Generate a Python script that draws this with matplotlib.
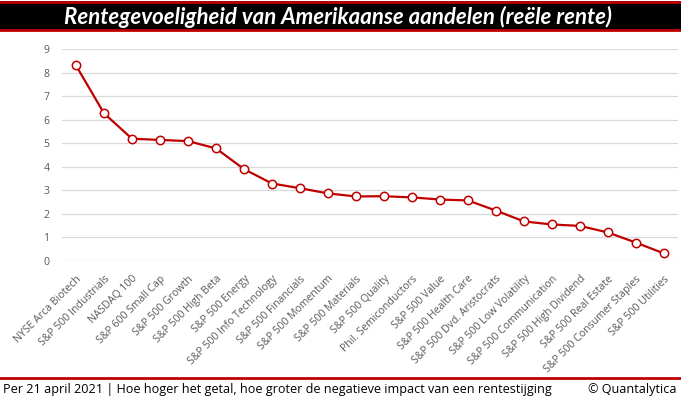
import matplotlib
matplotlib.use("Agg")
import matplotlib.pyplot as plt
from matplotlib.patches import Rectangle
from matplotlib.lines import Line2D

categories = [
    "NYSE Arca Biotech", "S&P 500 Industrials", "NASDAQ 100", "S&P 600 Small Cap",
    "S&P 500 Growth", "S&P 500 High Beta", "S&P 500 Energy", "S&P 500 Info Technology",
    "S&P 500 Financials", "S&P 500 Momentum", "S&P 500 Materials", "S&P 500 Quality",
    "Phil. Semiconductors", "S&P 500 Value", "S&P 500 Health Care",
    "S&P 500 Dvd. Aristocrats", "S&P 500 Low Volatility", "S&P 500 Communication",
    "S&P 500 High Dividend", "S&P 500 Real Estate", "S&P 500 Consumer Staples",
    "S&P 500 Utilities",
]
values = [8.30, 6.27, 5.19, 5.14, 5.09, 4.78, 3.90, 3.29, 3.09, 2.87, 2.74,
          2.75, 2.70, 2.61, 2.57, 2.14, 1.68, 1.55, 1.49, 1.21, 0.78, 0.32]
y_ticks = list(range(0, 10))

title = "Rentegevoeligheid van Amerikaanse aandelen (reële rente)"
footer_left = "Per 21 april 2021 | Hoe hoger het getal, hoe groter de negatieve impact van een rentestijging"
footer_right = "© Quantalytica"

red = "#c00000"
W, H = 681, 399
fig = plt.figure(figsize=(W / 100, H / 100), dpi=100)

# title bar
fig.patches.append(Rectangle((0, 1 - 31 / H), 1, 30 / H, transform=fig.transFigure,
                             facecolor="black", edgecolor="none"))
for yy in (1 - 2 / H, 1 - 30 / H):
    fig.lines.append(Line2D([0, 1], [yy, yy], transform=fig.transFigure, color=red, lw=2))
fig.text(338 / W, 1 - 16.5 / H, title, ha="center", va="center", color="white",
         fontsize=16, fontweight="bold", fontstyle="italic", family="Lato")

ax = fig.add_axes([62 / W, 1 - 261 / H, 616 / W, 212 / H])
x = list(range(len(categories)))
ax.plot(x, values, color=red, lw=1.6, marker="o", markersize=6,
        markerfacecolor="white", markeredgecolor=red, markeredgewidth=1.1, zorder=3)
ax.set_xlim(-0.5, len(categories) - 0.5)
ax.set_ylim(0, 9)
ax.set_yticks(y_ticks)
ax.grid(axis="y", color="#d9d9d9", lw=0.9)
ax.set_axisbelow(True)
for s in ax.spines.values():
    s.set_visible(False)
ax.tick_params(axis="both", length=0, colors="#595959", labelsize=7.6)
ax.tick_params(axis="y", pad=9)
ax.set_xticks(x)
ax.set_xticklabels(categories, rotation=45, ha="right", rotation_mode="anchor",
                   family="Open Sans")
ax.tick_params(axis="x", pad=9)
for lbl in ax.get_yticklabels():
    lbl.set_family("Open Sans")

# footer
fig.lines.append(Line2D([0, 1], [1 - 378 / H] * 2, transform=fig.transFigure, color=red, lw=2))
fig.text(3 / W, 1 - 390 / H, footer_left, ha="left", va="center", fontsize=9.1,
         family="Open Sans", color="black")
fig.text(677 / W, 1 - 390 / H, footer_right, ha="right", va="center", fontsize=9.1,
         family="Open Sans", color="black")

fig.savefig("out.png", dpi=100)
